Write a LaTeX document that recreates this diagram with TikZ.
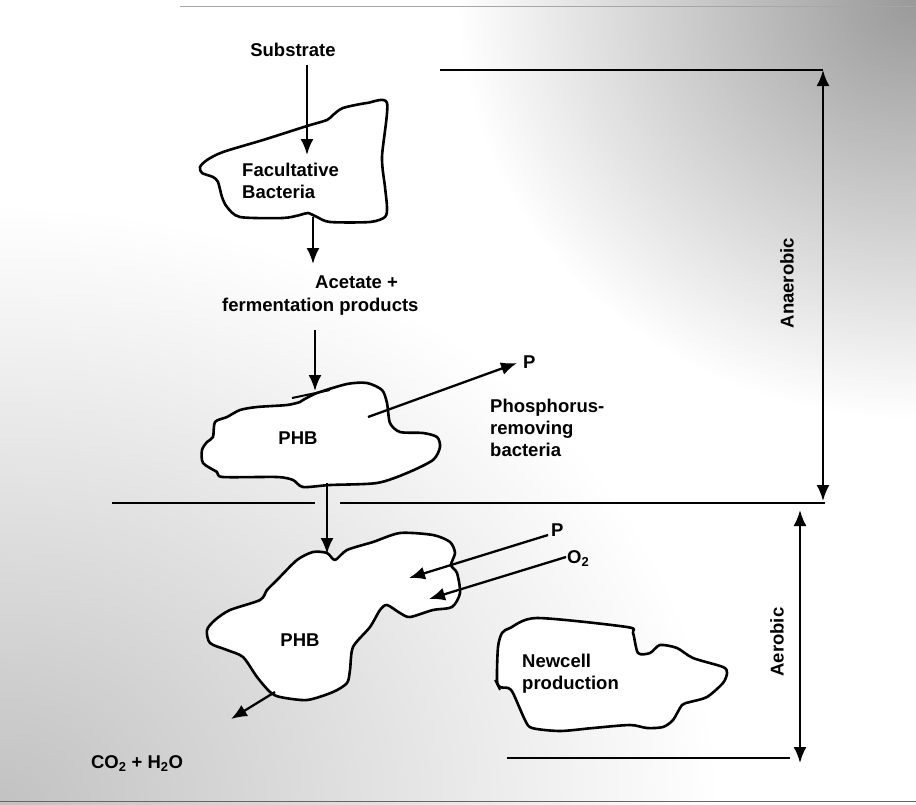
\documentclass[tikz,border=0pt]{standalone}
\usepackage{fontspec}
\setmainfont{Liberation Sans}
\usetikzlibrary{arrows.meta}
\begin{document}
\begin{tikzpicture}[x=1pt,y=-1pt,
  lbl/.style={inner sep=0pt, font=\bfseries\fontsize{18.5}{22}\selectfont},
  lblw/.style={lbl, anchor=base west, align=left},
  lblc/.style={lbl, anchor=base},
  arr/.style={-{Latex[length=16pt,width=13pt]}, line width=2.3pt},
  darr/.style={{Latex[length=16pt,width=13pt]}-{Latex[length=16pt,width=13pt]}, line width=2.3pt},
  rule/.style={line width=2.6pt},
  blob/.style={line width=2.6pt, fill=white, line join=round}
]
\useasboundingbox (0,0) rectangle (916,804);
% background speckle tone
\begin{scope}
  \clip (0,0) rectangle (916,804);
  \shade[inner color=black!24, outer color=white] (0,804) ellipse (720 and 600);
  \shade[inner color=black!40, outer color=white] (916,0) ellipse (460 and 420);
\end{scope}
\draw[black!35, line width=0.8pt] (180,6) -- (916,6);
\draw[black!60, line width=1pt] (0,801) -- (916,801);

% horizontal rules
\coordinate (t1) at (440,70);  \coordinate (t2) at (823,70);
\coordinate (m1) at (112,503); \coordinate (m2) at (315,503);
\coordinate (m3) at (340,503); \coordinate (m4) at (825,503);
\coordinate (b1) at (507,758); \coordinate (b2) at (790,758);
\draw[rule] (t1) -- (t2);
\draw[rule] (m1) -- (m2);
\draw[rule] (m3) -- (m4);
\draw[rule] (b1) -- (b2);

% facultative bacteria blob
\draw[blob] plot[smooth cycle, tension=0.45] coordinates {
 (387,103) (367,103) (343,108) (333,115) (327,120) (307,126) (263,140)
 (223,152) (207,160) (200,167) (202,173) (213,177) (218,182) (222,197)
 (227,207) (240,217) (283,218) (300,215) (308,213) (317,217) (330,222)
 (370,222) (385,217) (387,207) (385,187) (382,157)};

% PHB blob 1
\draw[blob] plot[smooth cycle, tension=0.45] coordinates {
 (303,400) (317,393) (347,384) (367,383) (382,390) (387,403) (390,423)
 (400,432) (423,433) (437,437) (440,447) (433,460) (407,473) (377,483)
 (330,485) (303,487) (293,480) (277,477) (223,477) (217,472) (203,463)
 (202,450) (207,442) (213,437) (215,422) (227,417) (240,410) (257,407)
 (287,405) (300,402)};
\draw[line width=2pt] (292,398) -- (330,390);

% PHB blob 2
\draw[blob] plot[smooth cycle, tension=0.45] coordinates {
 (327,553) (335,560) (347,550) (373,542) (400,533) (433,535) (450,542)
 (455,553) (451,565) (457,573) (460,593) (452,607) (433,610) (410,617)
 (400,613) (387,605) (380,610) (370,627) (353,647) (350,670) (347,683)
 (333,692) (307,700) (280,697) (270,692) (257,677) (243,657) (227,650)
 (210,643) (207,630) (215,620) (230,610) (260,600) (267,590) (277,580)
 (297,560) (313,552)};

% Newcell blob
\draw[blob] plot[smooth cycle, tension=0.45] coordinates {
 (537,618) (627,627) (633,633) (638,653) (650,653) (660,645) (677,648)
 (693,658) (723,667) (727,673) (723,683) (707,697) (690,702) (682,705)
 (673,720) (663,727) (647,728) (630,725) (593,728) (560,731) (532,728)
 (525,720) (513,693) (508,688) (500,687) (497,680) (498,647) (502,633)
 (510,628)};
\draw[line width=2pt] (495,680) -- (500,690);

% labels (base anchor of multi-line nodes = last line)
\node[lblc] (sub) at (293,56.5) {Substrate};
\node[lblw] (fac) at (242,198.5) {Facultative\\Bacteria};
\node[lblw] (ace) at (315,288.5) {Acetate +};
\node[lblw] (fer) at (222,311.5) {fermentation products};
\node[lblc] (phb1) at (298,444.5) {PHB};
\node[lblw] (p1) at (523,368.5) {P};
\node[lblw] (prb) at (490,456.5) {Phosphorus-\\removing\\bacteria};
\node[lblc] (phb2) at (300,646.5) {PHB};
\node[lblw] (p2) at (551,536.5) {P};
\node[lblw] (o2) at (567,563.5) {O\textsubscript{2}};
\node[lblw] (nc) at (522,689.5) {Newcell\\production};
\node[lblc] (co2) at (137,768.5) {CO\textsubscript{2} + H\textsubscript{2}O};
\node[lbl, rotate=90] (ana) at (787,283) {Anaerobic};
\node[lbl, rotate=90] (aer) at (777,642) {Aerobic};

% arrow end points
\coordinate (a1s) at (307,65);  \coordinate (a1e) at (307,155);
\coordinate (a2s) at (313,217); \coordinate (a2e) at (313,264);
\coordinate (a3s) at (315,330); \coordinate (a3e) at (315,391);
\coordinate (a4s) at (368,417); \coordinate (a4e) at (517,363);
\coordinate (a5s) at (327,483); \coordinate (a5e) at (327,554);
\coordinate (a6s) at (548,535); \coordinate (a6e) at (409,578);
\coordinate (a7s) at (566,557); \coordinate (a7e) at (429,599);
\coordinate (a8s) at (275,692); \coordinate (a8e) at (231,719);
\coordinate (v1s) at (823,70);  \coordinate (v1e) at (823,501);
\coordinate (v2s) at (800,510); \coordinate (v2e) at (800,763);

\draw[arr] (a1s) -- (a1e);
\draw[arr] (a2s) -- (a2e);
\draw[arr] (a3s) -- (a3e);
\draw[arr] (a4s) -- (a4e);
\draw[arr] (a5s) -- (a5e);
\draw[arr] (a6s) -- (a6e);
\draw[arr] (a7s) -- (a7e);
\draw[arr] (a8s) -- (a8e);
\draw[darr] (v1s) -- (v1e);
\draw[darr] (v2s) -- (v2e);
\end{tikzpicture}
\end{document}
